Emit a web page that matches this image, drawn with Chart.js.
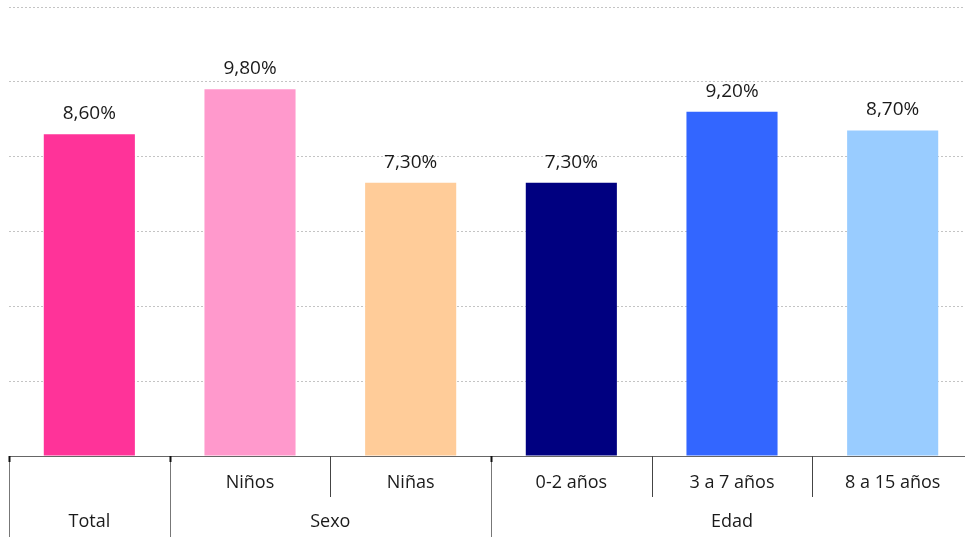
<!DOCTYPE html>
<html>
<head>
<meta charset="utf-8">
<script src="https://cdn.jsdelivr.net/npm/chart.js@4/dist/chart.umd.min.js"></script>
<style>
  html, body { margin: 0; padding: 0; background: #fff; overflow: hidden; }
  #wrap { position: relative; width: 973px; height: 537px; }
</style>
</head>
<body>
<div id="wrap"><canvas id="chart"></canvas></div>
<script>
// Catégories et valeurs
const categories = ['Total', 'Niños', 'Niñas', '0-2 años', '3 a 7 años', '8 a 15 años'];
const subLabels = ['', 'Niños', 'Niñas', '0-2 años', '3 a 7 años', '8 a 15 años'];
const values = [8.6, 9.8, 7.3, 7.3, 9.2, 8.7];
const barColors = ['#FF3399', '#FF99CC', '#FFCC99', '#000080', '#3366FF', '#99CCFF'];
// Groupes : [libellé, premier index, dernier index]
const groups = [['Total', 0, 0], ['Sexo', 1, 2], ['Edad', 3, 5]];
const yMax = 12;
const yStep = 2;

const FONT = '"Open Sans", "DejaVu Sans", sans-serif';

// Étiquettes de valeur au-dessus des barres
const valueLabels = {
  id: 'valueLabels',
  afterDatasetsDraw(chart) {
    const ctx = chart.ctx;
    const meta = chart.getDatasetMeta(0);
    ctx.save();
    ctx.font = '19px ' + FONT;
    ctx.fillStyle = '#1a1a1a';
    ctx.textAlign = 'center';
    ctx.textBaseline = 'bottom';
    meta.data.forEach((bar, i) => {
      const txt = values[i].toFixed(2).replace('.', ',') + '%';
      ctx.fillText(txt, bar.x, bar.y - 11);
    });
    ctx.restore();
  }
};

// Axe catégoriel à deux niveaux
const groupAxis = {
  id: 'groupAxis',
  afterDraw(chart) {
    const ctx = chart.ctx;
    const x = chart.scales.x;
    const top = chart.chartArea.bottom;
    const bottom = chart.height;
    const mid = top + 41;
    const half = (x.getPixelForValue(1) - x.getPixelForValue(0)) / 2;
    const edge = i => x.getPixelForValue(i) - half;

    ctx.save();
    ctx.lineWidth = 1;
    // séparateurs internes
    ctx.strokeStyle = '#444';
    groups.forEach(g => {
      for (let i = g[1] + 1; i <= g[2]; i++) {
        const px = Math.round(edge(i)) + 0.5;
        ctx.beginPath();
        ctx.moveTo(px, top);
        ctx.lineTo(px, mid);
        ctx.stroke();
      }
    });
    // séparateurs de groupes
    groups.forEach(g => {
      const px = Math.round(edge(g[1])) + 0.5;
      ctx.strokeStyle = '#777';
      ctx.beginPath();
      ctx.moveTo(px, top);
      ctx.lineTo(px, bottom);
      ctx.stroke();
      ctx.strokeStyle = '#111';
      ctx.lineWidth = 2;
      ctx.beginPath();
      ctx.moveTo(px, top);
      ctx.lineTo(px, top + 6);
      ctx.stroke();
      ctx.lineWidth = 1;
    });

    ctx.font = '18px ' + FONT;
    ctx.fillStyle = '#1a1a1a';
    ctx.textAlign = 'center';
    ctx.textBaseline = 'middle';
    subLabels.forEach((lab, i) => {
      if (lab) ctx.fillText(lab, x.getPixelForValue(i), top + 27);
    });
    groups.forEach(g => {
      const cx = (edge(g[1]) + edge(g[2] + 1)) / 2;
      ctx.fillText(g[0], cx, top + 66);
    });
    ctx.restore();
  }
};

new Chart(document.getElementById('chart'), {
  type: 'bar',
  data: {
    labels: categories,
    datasets: [{
      data: values,
      backgroundColor: barColors,
      barPercentage: 0.567,
      categoryPercentage: 1.0
    }]
  },
  options: {
    responsive: true,
    maintainAspectRatio: false,
    animation: false,
    layout: { padding: { left: 9, top: 7, right: 0, bottom: 73 } },
    plugins: { legend: { display: false }, tooltip: { enabled: false } },
    scales: {
      x: {
        ticks: { display: false },
        grid: { display: false },
        border: { display: true, color: '#666', width: 1 }
      },
      y: {
        min: 0,
        max: yMax,
        ticks: { display: false, stepSize: yStep },
        grid: { color: '#c4c4c4', lineWidth: 1, drawTicks: false },
        border: { display: false, dash: [2, 2] }
      }
    }
  },
  plugins: [valueLabels, groupAxis]
});
</script>
</body>
</html>
